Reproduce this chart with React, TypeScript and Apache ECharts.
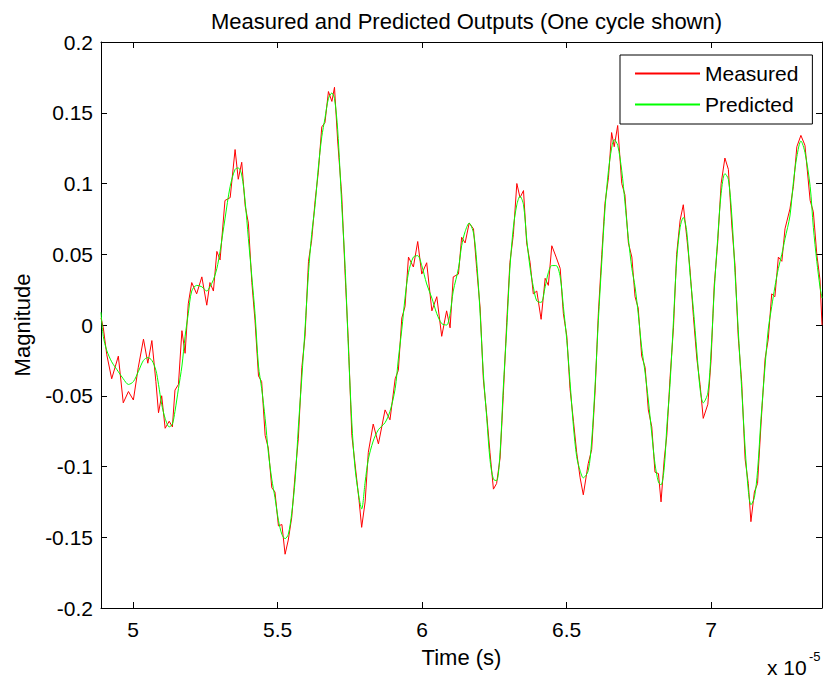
import React, { useEffect, useRef } from "react";
import * as echarts from "echarts";

// Time in units of 1e-5 s
const time = [
  4.889, 4.897, 4.909, 4.926, 4.949, 4.966, 4.984, 5.001, 5.018, 5.036,
  5.051, 5.065, 5.079, 5.088, 5.099, 5.111, 5.125, 5.136, 5.145, 5.157,
  5.169, 5.18, 5.191, 5.203, 5.22, 5.238, 5.255, 5.266, 5.278, 5.29,
  5.301, 5.318, 5.336, 5.353, 5.364, 5.376, 5.388, 5.399, 5.411, 5.422,
  5.434, 5.445, 5.457, 5.468, 5.48, 5.491, 5.503, 5.515, 5.526, 5.537,
  5.549, 5.561, 5.572, 5.584, 5.595, 5.607, 5.618, 5.63, 5.641, 5.653,
  5.664, 5.676, 5.688, 5.697, 5.708, 5.722, 5.734, 5.745, 5.757, 5.768,
  5.782, 5.791, 5.803, 5.814, 5.831, 5.849, 5.872, 5.889, 5.907, 5.918,
  5.93, 5.941, 5.953, 5.97, 5.985, 5.999, 6.016, 6.034, 6.051, 6.068,
  6.085, 6.097, 6.108, 6.126, 6.137, 6.149, 6.163, 6.178, 6.189, 6.201,
  6.212, 6.224, 6.235, 6.247, 6.258, 6.27, 6.281, 6.293, 6.304, 6.316,
  6.328, 6.339, 6.351, 6.362, 6.374, 6.385, 6.397, 6.412, 6.426, 6.437,
  6.449, 6.464, 6.478, 6.489, 6.501, 6.512, 6.524, 6.535, 6.547, 6.558,
  6.575, 6.587, 6.599, 6.61, 6.622, 6.633, 6.645, 6.656, 6.665, 6.677,
  6.691, 6.702, 6.714, 6.726, 6.737, 6.748, 6.76, 6.772, 6.783, 6.795,
  6.806, 6.818, 6.827, 6.838, 6.847, 6.858, 6.87, 6.881, 6.893, 6.904,
  6.916, 6.927, 6.939, 6.951, 6.962, 6.973, 6.989, 7.0, 7.011, 7.023,
  7.035, 7.048, 7.06, 7.072, 7.083, 7.094, 7.106, 7.118, 7.129, 7.138,
  7.15, 7.161, 7.173, 7.187, 7.198, 7.21, 7.221, 7.233, 7.245, 7.256,
  7.273, 7.285, 7.297, 7.311, 7.325, 7.343, 7.354, 7.366, 7.377, 7.384,
];

const predicted = [
  0.009, -0.008, -0.018, -0.026, -0.033, -0.038, -0.042, -0.04, -0.033, -0.025,
  -0.023, -0.025, -0.032, -0.042, -0.056, -0.066, -0.072, -0.07, -0.061, -0.045,
  -0.029, -0.008, 0.008, 0.024, 0.028, 0.027, 0.024, 0.027, 0.032, 0.04,
  0.052, 0.075, 0.098, 0.11, 0.111, 0.106, 0.087, 0.061, 0.034, 0.008,
  -0.029, -0.045, -0.066, -0.09, -0.109, -0.122, -0.138, -0.148, -0.151, -0.148,
  -0.133, -0.109, -0.072, -0.037, -0.003, 0.037, 0.064, 0.085, 0.111, 0.133,
  0.146, 0.16, 0.164, 0.16, 0.138, 0.085, 0.04, -0.016, -0.069, -0.101,
  -0.122, -0.13, -0.111, -0.095, -0.082, -0.074, -0.069, -0.061, -0.045, -0.024,
  -0.003, 0.019, 0.037, 0.048, 0.049, 0.042, 0.029, 0.019, 0.008, 0.001,
  0.0, 0.008, 0.024, 0.04, 0.056, 0.066, 0.072, 0.065, 0.045, 0.008,
  -0.034, -0.066, -0.095, -0.109, -0.11, -0.09, -0.045, -0.003, 0.04, 0.069,
  0.085, 0.091, 0.085, 0.061, 0.04, 0.027, 0.017, 0.016, 0.027, 0.037,
  0.042, 0.042, 0.034, 0.013, -0.011, -0.04, -0.072, -0.093, -0.103, -0.108,
  -0.103, -0.082, -0.042, 0.003, 0.045, 0.082, 0.109, 0.125, 0.131, 0.127,
  0.109, 0.087, 0.061, 0.04, 0.027, 0.008, -0.016, -0.034, -0.053, -0.077,
  -0.098, -0.111, -0.113, -0.101, -0.072, -0.042, 0.003, 0.045, 0.069, 0.076,
  0.066, 0.037, 0.011, -0.019, -0.045, -0.055, -0.048, -0.019, 0.024, 0.061,
  0.093, 0.107, 0.103, 0.077, 0.037, -0.003, -0.045, -0.087, -0.117, -0.127,
  -0.122, -0.103, -0.066, -0.029, -0.003, 0.013, 0.027, 0.04, 0.05, 0.061,
  0.077, 0.101, 0.119, 0.13, 0.122, 0.098, 0.069, 0.045, 0.027, 0.019,
];

const measured = [
  0.005, -0.002, -0.021, -0.038, -0.022, -0.055, -0.047, -0.053, -0.03, -0.01,
  -0.027, -0.011, -0.04, -0.062, -0.05, -0.073, -0.068, -0.072, -0.046, -0.042,
  -0.004, -0.02, 0.015, 0.03, 0.022, 0.034, 0.014, 0.03, 0.024, 0.052,
  0.046, 0.088, 0.09, 0.124, 0.103, 0.115, 0.084, 0.072, 0.03, 0.003,
  -0.036, -0.04, -0.078, -0.087, -0.115, -0.118, -0.142, -0.141, -0.162, -0.152,
  -0.136, -0.105, -0.08, -0.03, -0.008, 0.045, 0.06, 0.088, 0.108, 0.14,
  0.143, 0.165, 0.158, 0.168, 0.13, 0.092, 0.035, -0.012, -0.078, -0.098,
  -0.124, -0.143, -0.125, -0.09, -0.07, -0.084, -0.06, -0.067, -0.038, -0.032,
  0.005, 0.013, 0.048, 0.041, 0.059, 0.036, 0.044, 0.01, 0.02, -0.008,
  0.01, -0.002, 0.034, 0.036, 0.062, 0.058, 0.072, 0.068, 0.04, 0.012,
  -0.038, -0.064, -0.09, -0.116, -0.112, -0.094, -0.05, 0.002, 0.044, 0.064,
  0.1, 0.09, 0.095, 0.058, 0.044, 0.022, 0.024, 0.004, 0.033, 0.028,
  0.056, 0.048, 0.04, 0.008, -0.008, -0.045, -0.068, -0.09, -0.108, -0.12,
  -0.098, -0.088, -0.046, 0.008, 0.05, 0.086, 0.104, 0.136, 0.126, 0.141,
  0.1, 0.092, 0.058, 0.048, 0.02, 0.012, -0.022, -0.03, -0.06, -0.072,
  -0.104, -0.105, -0.125, -0.095, -0.078, -0.038, -0.002, 0.05, 0.074, 0.085,
  0.062, 0.04, 0.006, -0.024, -0.042, -0.066, -0.056, -0.025, 0.028, 0.058,
  0.1, 0.118, 0.11, 0.07, 0.042, -0.008, -0.04, -0.095, -0.112, -0.139,
  -0.118, -0.112, -0.07, -0.024, -0.01, 0.022, 0.02, 0.048, 0.045, 0.068,
  0.082, 0.098, 0.126, 0.134, 0.127, 0.088, 0.08, 0.05, 0.032, 0.0,
];

const xTicks = [5, 5.5, 6, 6.5, 7];
const xMin = 4.889;
const xMax = 7.384;
const yMin = -0.2;
const yMax = 0.2;
const yStep = 0.05;

const FONT = "'Liberation Sans', Arial, Helvetica, sans-serif";

export default function App() {
  const ref = useRef<HTMLDivElement>(null);

  useEffect(() => {
    if (!ref.current) return;
    const chart = echarts.init(ref.current, null, { renderer: "svg" });

    const frameAxisLine = { show: true, onZero: false, lineStyle: { color: "#000", width: 1 } };
    const tickStyle = { color: "#000", width: 1 };

    const option: any = {
      animation: false,
      backgroundColor: "#fff",
      textStyle: { fontFamily: FONT },
      title: {
        text: "Measured and Predicted Outputs (One cycle shown)",
        left: 461.5,
        textAlign: "center",
        top: 5,
        textStyle: { fontFamily: FONT, fontSize: 22, fontWeight: "normal", color: "#000" },
      },
      grid: {
        left: 101,
        right: 3,
        top: 42,
        bottom: 71,
        containLabel: false,
        outerBoundsMode: "none",
      },
      legend: {
        orient: "vertical",
        left: 620,
        top: 55,
        backgroundColor: "#fff",
        borderColor: "#000",
        borderWidth: 1,
        borderRadius: 0,
        padding: [8, 14, 9, 14],
        itemWidth: 65,
        itemHeight: 14,
        itemGap: 10,
        itemStyle: { opacity: 0 },
        textStyle: { fontFamily: FONT, fontSize: 21, color: "#000", lineHeight: 21 },
        data: ["Measured", "Predicted"],
      },
      xAxis: [
        {
          type: "value",
          min: xMin,
          max: xMax,
          position: "bottom",
          name: "Time (s)",
          nameLocation: "middle",
          nameGap: 38,
          nameTextStyle: { fontFamily: FONT, fontSize: 22, color: "#000" },
          axisLine: frameAxisLine,
          axisTick: { show: true, inside: true, length: 6, lineStyle: tickStyle, customValues: xTicks },
          axisLabel: {
            show: true,
            margin: 11,
            fontFamily: FONT,
            fontSize: 21,
            color: "#000",
            customValues: xTicks,
          },
          splitLine: { show: false },
        },
        {
          type: "value",
          min: xMin,
          max: xMax,
          position: "top",
          axisLine: frameAxisLine,
          axisTick: { show: true, inside: true, length: 6, lineStyle: tickStyle, customValues: xTicks },
          axisLabel: { show: false },
          splitLine: { show: false },
        },
      ],
      yAxis: [
        {
          type: "value",
          min: yMin,
          max: yMax,
          interval: yStep,
          position: "left",
          name: "Magnitude",
          nameLocation: "middle",
          nameGap: 68,
          nameTextStyle: { fontFamily: FONT, fontSize: 22, color: "#000" },
          axisLine: frameAxisLine,
          axisTick: { show: true, inside: true, length: 6, lineStyle: tickStyle },
          axisLabel: { show: true, margin: 8, fontFamily: FONT, fontSize: 21, color: "#000" },
          splitLine: { show: false },
        },
        {
          type: "value",
          min: yMin,
          max: yMax,
          interval: yStep,
          position: "right",
          axisLine: frameAxisLine,
          axisTick: { show: true, inside: true, length: 6, lineStyle: tickStyle },
          axisLabel: { show: false },
          splitLine: { show: false },
        },
      ],
      graphic: [
        {
          type: "text",
          left: 767,
          top: 657,
          style: { text: "x 10", fontFamily: FONT, fontSize: 21, fill: "#000" },
        },
        {
          type: "text",
          left: 809,
          top: 650,
          style: { text: "-5", fontFamily: FONT, fontSize: 13, fill: "#000" },
        },
      ],
      series: [
        {
          name: "Measured",
          type: "line",
          xAxisIndex: 0,
          yAxisIndex: 0,
          symbol: "none",
          showSymbol: false,
          clip: true,
          lineStyle: { color: "#ff0000", width: 1 },
          itemStyle: { color: "#ff0000" },
          data: time.map((t, i) => [t, measured[i]]),
        },
        {
          name: "Predicted",
          type: "line",
          xAxisIndex: 0,
          yAxisIndex: 0,
          symbol: "none",
          showSymbol: false,
          clip: true,
          smooth: 0.3,
          lineStyle: { color: "#00ff00", width: 1 },
          itemStyle: { color: "#00ff00" },
          data: time.map((t, i) => [t, predicted[i]]),
        },
      ],
    };

    chart.setOption(option);
    return () => {
      chart.dispose();
    };
  }, []);

  return (
    <div
      ref={ref}
      style={{ position: "fixed", left: 0, top: 0, width: 825, height: 679, background: "#fff" }}
    />
  );
}
